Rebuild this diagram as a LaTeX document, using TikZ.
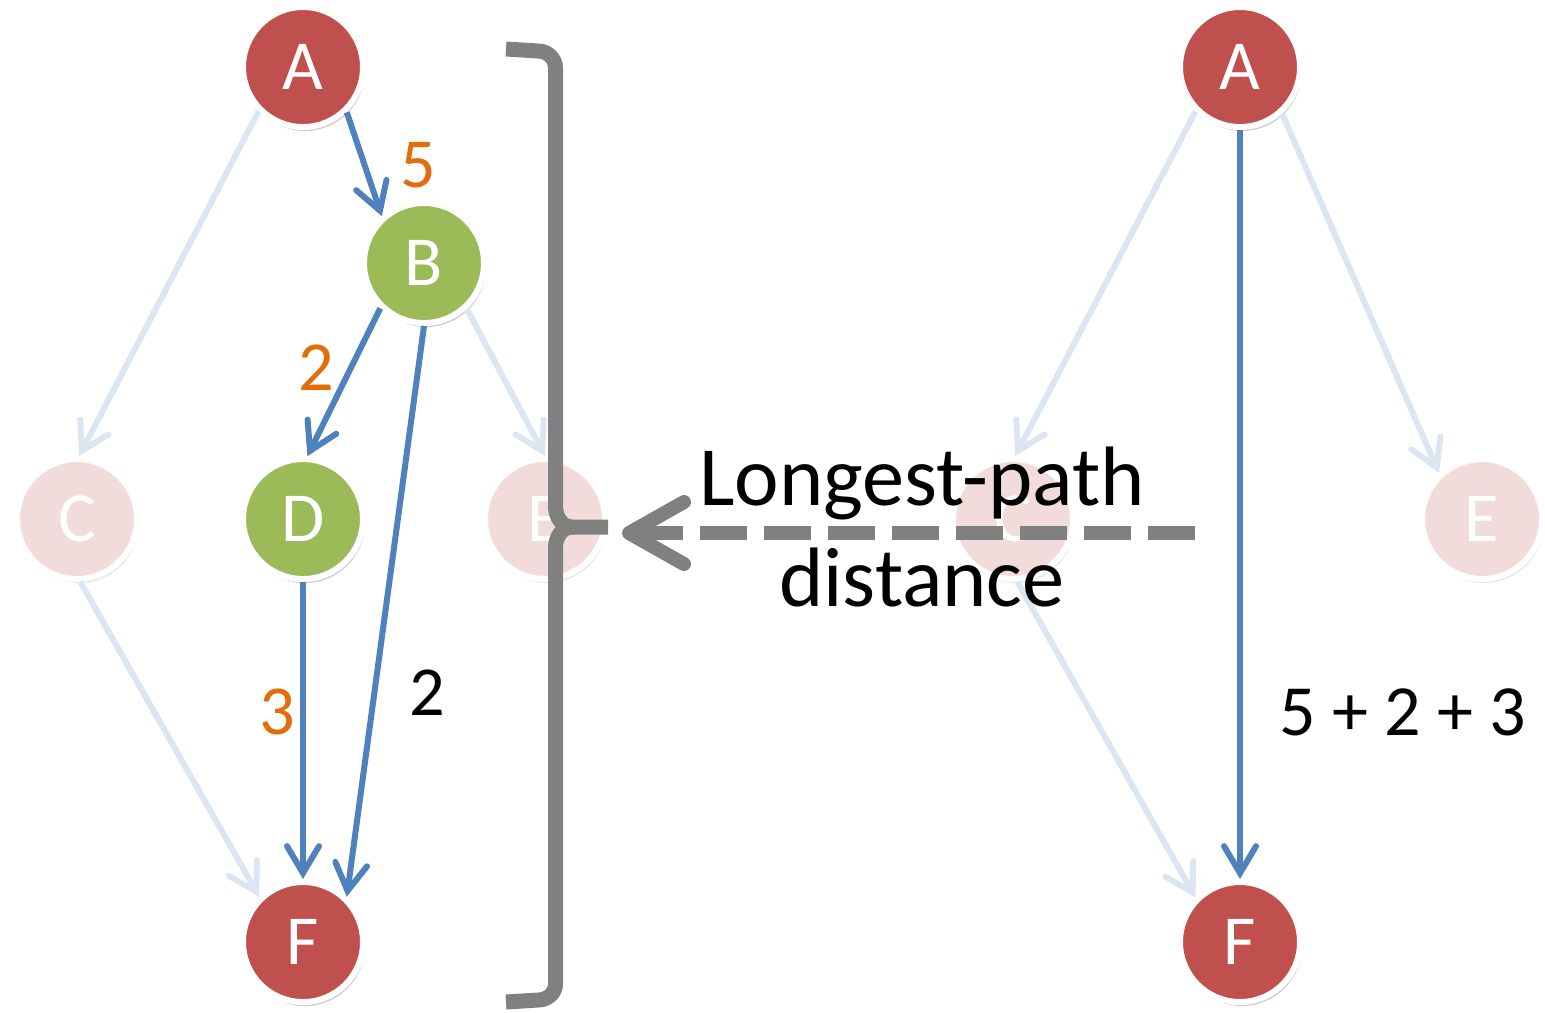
\documentclass[tikz,border=0pt]{standalone}
\usepackage{fontspec}
\setmainfont{Carlito}
\usetikzlibrary{arrows.meta,shadows}

\definecolor{nodered}{HTML}{C0504D}
\definecolor{nodegreen}{HTML}{9BBB59}
\definecolor{fadepink}{HTML}{F2DCDB}
\definecolor{edgeblue}{HTML}{4F81BD}
\definecolor{fadeblue}{HTML}{DCE6F2}
\definecolor{wtorange}{HTML}{E46C0A}
\definecolor{bargray}{HTML}{808080}

\tikzset{
  vert/.style={circle, minimum size=1.20cm, inner sep=0pt, draw=white,
    line width=0.06cm, text=white, font=\fontsize{20}{24}\selectfont},
  redv/.style={vert, fill=nodered,
    drop shadow={shadow xshift=0.02cm, shadow yshift=-0.04cm, opacity=0.4}},
  greenv/.style={vert, fill=nodegreen,
    drop shadow={shadow xshift=0.02cm, shadow yshift=-0.04cm, opacity=0.4}},
  fadev/.style={vert, fill=fadepink,
    drop shadow={shadow xshift=0.02cm, shadow yshift=-0.04cm, opacity=0.2}},
  hotedge/.style={draw=edgeblue, line width=0.06cm,
    -{Straight Barb[length=0.27cm, width=0.32cm, line cap=round]}},
  fadedge/.style={draw=fadeblue, line width=0.06cm,
    -{Straight Barb[length=0.27cm, width=0.32cm, line cap=round]}},
  wlabel/.style={font=\fontsize{20}{24}\selectfont, text=wtorange},
  brace/.style={draw=bargray, line width=0.15cm},
}

\begin{document}
\begin{tikzpicture}
    \useasboundingbox (0,0) rectangle (15.45,-10.12);

    % left graph
    \node[redv]   (A)  at (3.03,-0.67) {A};
    \node[greenv] (B)  at (4.24,-2.63) {B};
    \node[fadev]  (C)  at (0.77,-5.19) {C};
    \node[greenv] (D)  at (3.03,-5.19) {D};
    \node[fadev]  (E)  at (5.45,-5.19) {E};
    \node[redv]   (F)  at (3.03,-9.42) {F};

    \draw[fadedge] (A.-135) -- (C.88);
    \draw[fadedge] (C.-87) -- (F.134);
    \draw[fadedge] (B.-47) -- (E.90);
    \draw[hotedge] (A.-46) -- (B.132);
    \draw[hotedge] (B.-134) -- (D.86);
    \draw[hotedge] (B.-90) -- (F.46);
    \draw[hotedge] (D.-90) -- (F.90);

    \node[wlabel] (wab) at (4.18,-1.65) {5};
    \node[wlabel] (wbd) at (3.16,-3.68) {2};
    \node[wlabel] (wdf) at (2.77,-7.12) {3};
    \node[wlabel, text=black] (wbf) at (4.27,-6.93) {2};

    % right graph
    \node[redv]  (A2) at (12.40,-0.67) {A};
    \node[fadev] (C2) at (10.13,-5.19) {C};
    \node[fadev] (E2) at (14.82,-5.19) {E};
    \node[redv]  (F2) at (12.40,-9.42) {F};

    \draw[fadedge] (A2.-135) -- (C2.88);
    \draw[fadedge] (A2.-48) -- (E2.133);
    \draw[fadedge] (C2.-86) -- (F2.135);
    \draw[hotedge] (A2.-90) -- (F2.90);

    \node[wlabel, text=black, font=\fontsize{20.5}{24}\selectfont] (wsum) at (14.03,-7.12) {5 + 2 + 3};

    % brace
    \draw[brace] (5.06,-0.49) -- (5.38,-0.51) to[out=0,in=90] (5.555,-0.68)
        -- (5.555,-5.06) to[out=-90,in=180] (5.72,-5.27) -- (6.08,-5.27);
    \draw[brace] (5.72,-5.27) to[out=180,in=90] (5.555,-5.48)
        -- (5.555,-9.84) to[out=-90,in=0] (5.38,-10.00) -- (5.06,-10.02);

    \coordinate (dstart) at (11.95,-5.33);
    \coordinate (dtip) at (6.22,-5.33);
    \draw[draw=bargray, line width=0.14cm, dash pattern=on 0.47cm off 0.17cm,
        -{Straight Barb[length=0.55cm, width=0.62cm, line cap=round, line join=round]}]
        (dstart) -- (dtip);

    \node[align=center, font=\fontsize{24}{28.5}\selectfont] (lpd) at (9.22,-5.27)
        {Longest-path\\distance};
\end{tikzpicture}
\end{document}
